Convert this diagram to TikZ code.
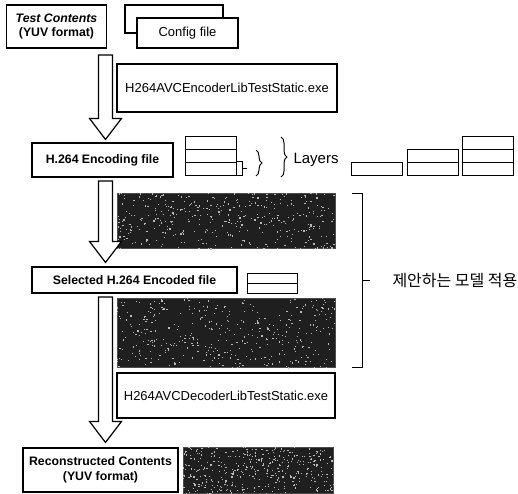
\documentclass[tikz,border=0pt]{standalone}
\usepackage{fontspec}
\setmainfont{Liberation Sans}
\newfontfamily\krfont{Noto Sans CJK KR}
\usetikzlibrary{calc,decorations.pathreplacing}

% 속이 빈 굵은 화살표 (top coordinate, tip coordinate)
\newcommand{\blockarrow}[2]{%
  \draw[bigarrow] let \p1=(#1), \p2=(#2) in
    (\x1-7pt,\y1) -- (\x1+7pt,\y1) -- (\x1+7pt,\y2+21pt) -- (\x1+16pt,\y2+21pt)
    -- (\x2,\y2) -- (\x1-16pt,\y2+21pt) -- (\x1-7pt,\y2+21pt) -- cycle;}

\begin{document}
\begin{tikzpicture}[x=1pt, y=-1pt, line width=1pt,
    box/.style={draw, line width=1.1pt, fill=white, inner sep=0pt, align=center,
      font=\fontsize{13}{15}\selectfont},
    bbox/.style={box, font=\bfseries\fontsize{12.3}{14.5}\selectfont},
    photo/.style={draw=black!70, fill=black!88, inner sep=0pt},
    row/.style={draw, minimum width=51pt, minimum height=12.7pt, inner sep=0pt},
    bigarrow/.style={draw, line width=1.2pt, fill=white, line join=miter},
    brace/.style={decorate, decoration={brace, amplitude=6pt}, line width=1pt}]
  \useasboundingbox (0,0) rectangle (518,493);

  % 입력 영상과 설정 파일
  \node[bbox, minimum width=100pt, minimum height=43pt] (tc) at (56.5,26.5)
    {\textit{Test Contents}\\(YUV format)};
  \node[box, minimum width=98pt, minimum height=28pt] (cfgback) at (174,19) {};
  \node[box, minimum width=101pt, minimum height=30pt] (cfg) at (187.5,33) {Config file};

  % 인코더
  \node[box, minimum width=220pt, minimum height=48pt] (enc) at (227,88)
    {H264AVCEncoderLibTestStatic.exe};
  \node[bbox, minimum width=141pt, minimum height=34pt] (encfile) at (102.5,160)
    {H.264 Encoding file};

  % 계층 (layers)
  \foreach \n/\x/\k in {st1/211/3, st2/377/1, st3/432.5/2, st4/488/3}
    \foreach \r in {1,...,\k}
      \node[row] (\n-\r) at (\x,{181.35-12.7*\r}) {};
  \draw (st1-1.north east) -- ++(5,0) |- (st1-1.south east);
  \draw ($(st1-1.east)+(5,0)$) -- ++(5,0);
  \draw[brace] (256,150) -- (256,176);
  \draw[brace] (281,137) -- (281,177);
  \node[anchor=west, inner sep=0pt, font=\fontsize{15}{17}\selectfont] (lay) at (293,160) {Layers};

  % 선택된 부호화 파일
  \node[photo, minimum width=218pt, minimum height=55pt] (img1) at (226,220.5) {};
  \node[bbox, minimum width=205pt, minimum height=26pt] (sel) at (134.5,280)
    {Selected H.264 Encoded file};
  \node[row, minimum width=50pt, minimum height=10pt] (ss-2) at (272,278) {};
  \node[row, minimum width=50pt, minimum height=10pt] (ss-1) at (272,288) {};
  \node[photo, minimum width=218pt, minimum height=69pt] (img2) at (226,332.5) {};

  % 제안 모델 괄호
  \coordinate (bt) at (352,193);
  \coordinate (bb) at (352,367);
  \draw (bt) -- ++(10,0) |- (bb);
  \draw (362,280) -- ++(8,0) coordinate (btick);
  \node[anchor=west, inner sep=0pt, font=\krfont\fontsize{16}{18}\selectfont] (model)
    at ($(btick)+(22,0)$) {제안하는 모델 적용};

  % 디코더와 복원 영상
  \node[box, minimum width=218pt, minimum height=45pt] (dec) at (226,395.5)
    {H264AVCDecoderLibTestStatic.exe};
  \node[bbox, minimum width=155pt, minimum height=44pt] (rc) at (100.5,470)
    {Reconstructed Contents\\(YUV format)};
  \node[photo, minimum width=150pt, minimum height=46pt] (img3) at (258,470) {};

  % 영상 잡음
  \pgfmathsetseed{11}
  \foreach \im in {img1,img2,img3}
    \foreach \k in {1,...,380}
      \fill[gray!55] let \p1=($(\im.south east)-(\im.north west)$) in
        ($(\im.north west)+(rnd*\x1,rnd*\y1)$) rectangle ++(1.2,1.2);

  % 화살표
  \coordinate (a1) at (105.5,55);
  \coordinate (a2) at (105.5,181);
  \coordinate (a3) at (105.5,297);
  \blockarrow{a1}{$(encfile.north -| a1)+(0,-3)$}
  \blockarrow{a2}{$(sel.north -| a2)+(0,-4)$}
  \blockarrow{a3}{$(rc.north -| a3)+(0,-5)$}
\end{tikzpicture}
\end{document}
